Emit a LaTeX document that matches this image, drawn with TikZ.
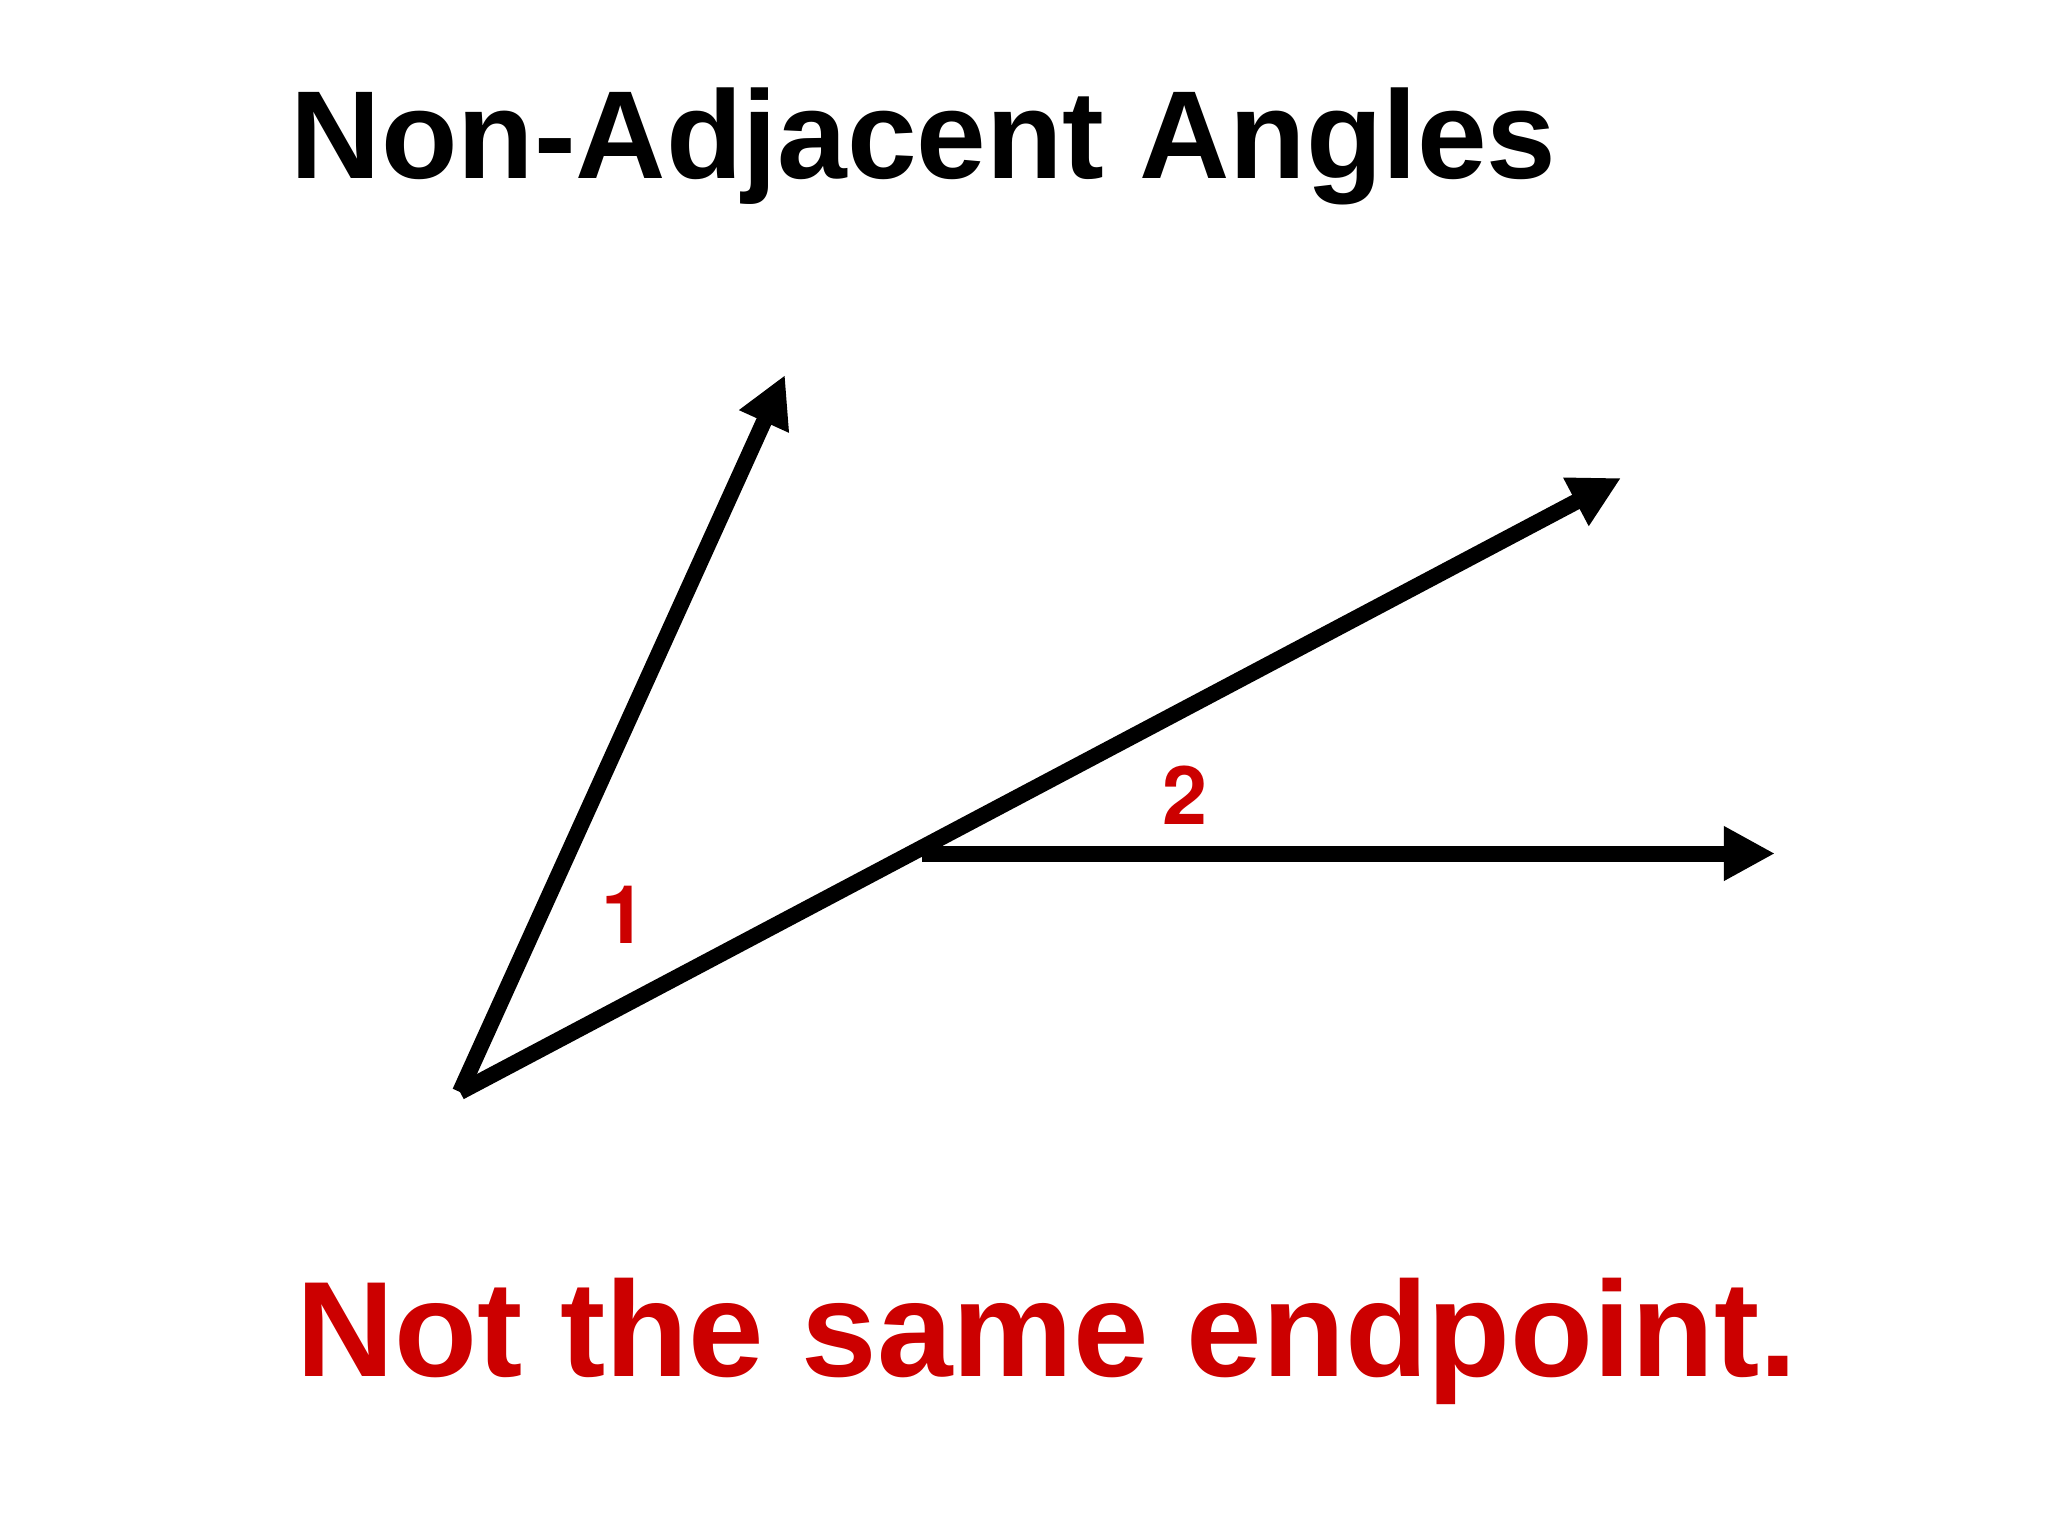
\documentclass[tikz,border=0pt]{standalone}
\usepackage{fontspec}
\setmainfont{Liberation Sans}
\newfontfamily\digitfont{TeX Gyre Heros}
\usetikzlibrary{arrows.meta}
\definecolor{lblred}{RGB}{204,0,0}
\tikzset{
  ray/.style={line width=0.16cm, -{Triangle[length=0.51cm,width=0.51cm]}},
  title/.style={font=\fontsize{35.6pt}{40pt}\selectfont\bfseries, anchor=base west, inner sep=0pt},
  caption/.style={font=\fontsize{38.6pt}{44pt}\selectfont\bfseries, text=lblred, anchor=base west, inner sep=0pt},
  anglelbl/.style={font=\digitfont\fontsize{23pt}{26pt}\selectfont\bfseries, text=lblred, anchor=base, inner sep=0pt}
}
\begin{document}
\begin{tikzpicture}[x=0.01cm,y=-0.01cm]
\useasboundingbox[fill=white] (0,0) rectangle (2048,1536);
\coordinate (A) at (460,1092);
\coordinate (T1) at (785,375);
\coordinate (T2) at (1621,478);
\coordinate (B) at (922,853.5);
\coordinate (T3) at (1775,853.5);
\draw[ray] (A) -- (T1);
\draw[ray] (A) -- (T2);
\draw[ray] (B) -- (T3);
\node[title] (ttl) at (290,178) {Non-Adjacent Angles};
\node[caption] (cap) at (296,1376) {Not the same endpoint.};
\node[anglelbl] (one) at (624,943) {1};
\node[anglelbl] (two) at (1185,824) {2};
\end{tikzpicture}
\end{document}
